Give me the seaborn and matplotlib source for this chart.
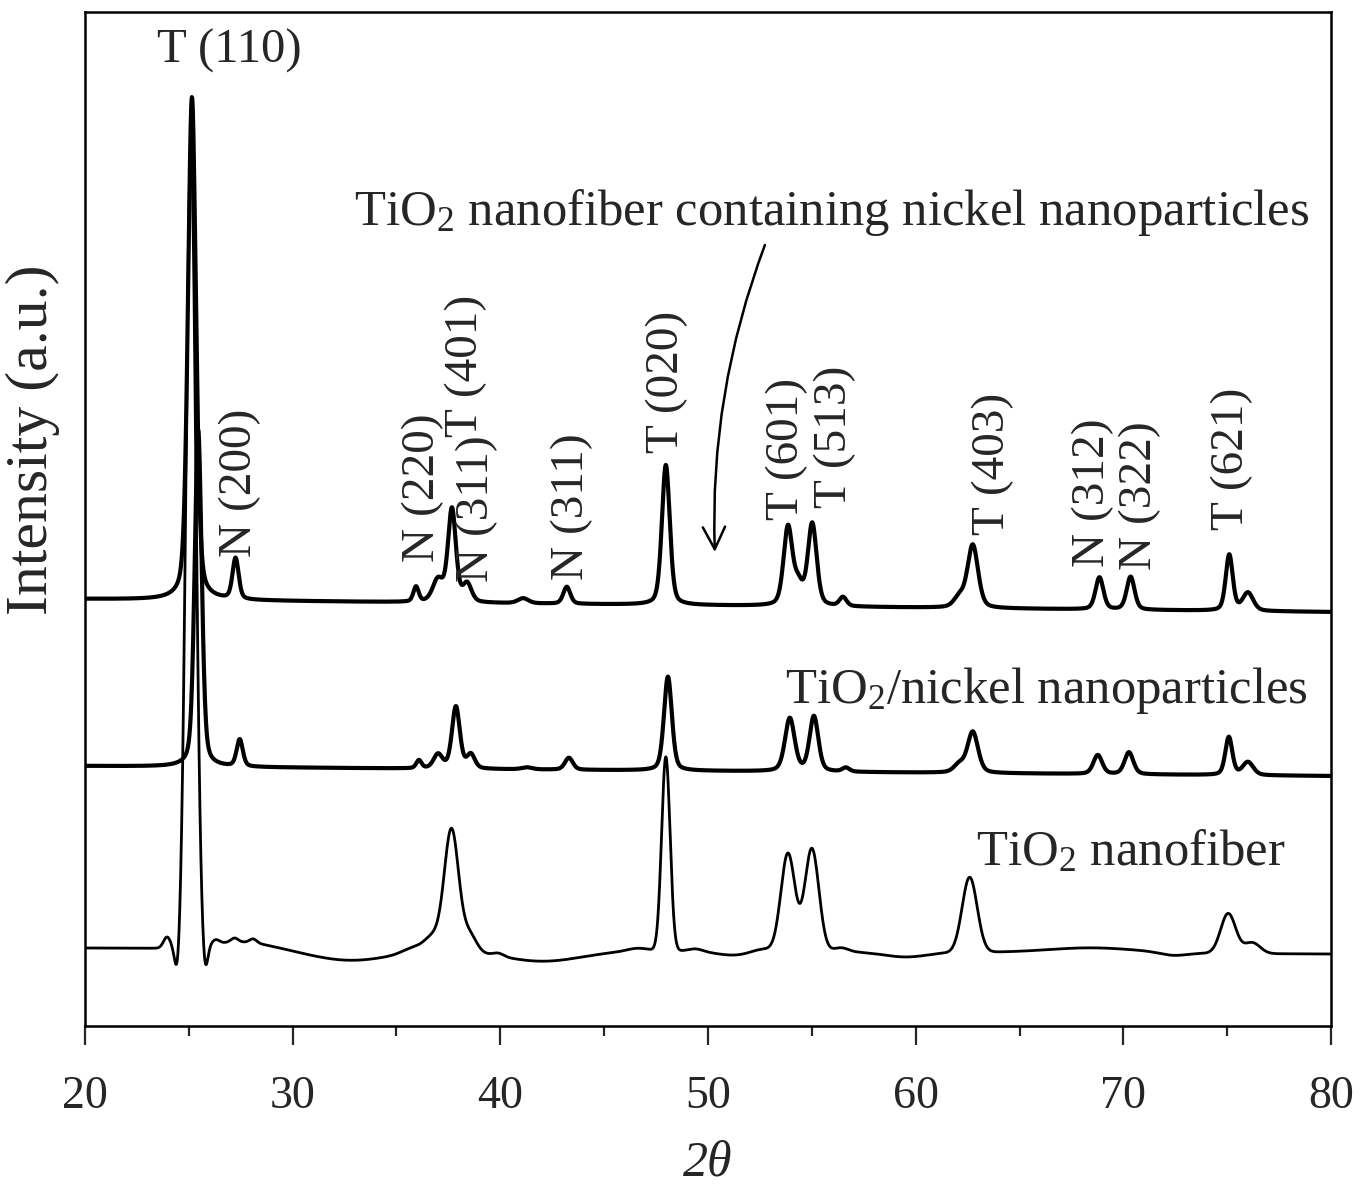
import numpy as np
import pandas as pd
import matplotlib
matplotlib.use("Agg")
import matplotlib.pyplot as plt
from matplotlib.ticker import MultipleLocator
import seaborn as sns

# scan range (2 theta, degrees)
scan_start, scan_end = 20, 80

# bottom trace: TiO2 nanofiber (smooth). baseline at 20 and 80, then peaks
fiber_base = [78, 72]
fiber_pos = [23.95, 24.45, 25.1, 25.78, 26.3, 27.2, 28.1, 27.5, 32.8, 35.8, 36.8, 37.65, 38.5, 39.9,
             42.0, 46.6, 47.97, 49.4, 51.2, 52.6, 53.85, 55.0, 56.4, 59.5, 62.6, 68.5, 72.4, 75.05, 76.2]
fiber_height = [11, -28, 800, -28, 4, 4, 4, 7, -11, 5, 15, 120, 18, 3,
                -11, 3, 194, 2.5, -4, 3, 98, 103, 4, -5, 75, 5, -3, 40, 11]
fiber_fwhm = [0.4, 0.3, 0.55, 0.3, 0.4, 0.4, 0.4, 3.5, 4.5, 1.2, 1.0, 0.8, 0.8, 0.6,
              4.5, 1.2, 0.48, 0.8, 2.0, 1.2, 0.8, 0.8, 0.8, 2.5, 0.85, 5.0, 1.5, 0.85, 0.9]

# middle trace: TiO2/nickel nanoparticles
mix_base = [260, 250]
mix_pos = [25.45, 27.45, 36.08, 37.0, 37.86, 38.58, 41.28, 43.3, 48.07, 53.94, 55.1, 56.64,
           62.1, 62.75, 68.77, 70.27, 75.08, 76.0]
mix_height = [337, 27, 8, 14, 62, 14, 2, 12, 94, 53, 55, 4, 8, 41, 19, 22, 38, 13]
mix_fwhm = [0.4, 0.35, 0.3, 0.5, 0.45, 0.45, 0.6, 0.45, 0.45, 0.55, 0.5, 0.4,
            0.6, 0.6, 0.5, 0.5, 0.4, 0.6]

# top trace: TiO2 nanofiber containing nickel nanoparticles
comp_base = [427, 414]
comp_pos = [25.15, 27.25, 35.94, 37.0, 37.67, 38.4, 41.1, 43.2, 47.97, 53.85, 54.35, 55.02,
            56.5, 62.1, 62.75, 68.85, 70.35, 75.1, 76.0]
comp_height = [503, 41, 15, 22, 93, 18, 5, 17, 140, 78, 20, 82, 9, 10, 63, 32, 33, 56, 18]
comp_fwhm = [0.45, 0.35, 0.3, 0.6, 0.45, 0.5, 0.6, 0.4, 0.45, 0.5, 0.5, 0.5, 0.4,
             0.6, 0.6, 0.45, 0.45, 0.4, 0.6]

# reflection labels: text, x (2 theta), y of text start
hkl_text = ["N (200)", "N (220)", "T (401)", "N (311)", "N (311)", "T (020)", "T (601)",
            "T (513)", "T (403)", "N (312)", "N (322)", "T (621)"]
hkl_x = [27.46, 36.28, 38.35, 38.88, 43.45, 48.02, 53.8, 56.1, 63.72, 68.54, 70.8, 75.23]
hkl_y = [469, 464, 589, 444, 446, 573, 506, 518, 491, 459, 456, 496]


def trace(base, pos, height, fwhm, eta, x):
    y = base[0] + (base[1] - base[0]) * (x - scan_start) / (scan_end - scan_start)
    for c, h, w in zip(pos, height, fwhm):
        u = (x - c) / w
        g = np.exp(-4 * np.log(2) * u ** 2)
        lor = 1 / (1 + 4 * u ** 2)
        y = y + h * ((1 - eta) * g + eta * lor)
    return y


x = np.linspace(scan_start, scan_end, 4000)
df = pd.concat([
    pd.DataFrame({"two_theta": x, "intensity": trace(fiber_base, fiber_pos, fiber_height, fiber_fwhm, 0.0, x),
                  "sample": "fiber"}),
    pd.DataFrame({"two_theta": x, "intensity": trace(mix_base, mix_pos, mix_height, mix_fwhm, 0.35, x),
                  "sample": "mix"}),
    pd.DataFrame({"two_theta": x, "intensity": trace(comp_base, comp_pos, comp_height, comp_fwhm, 0.35, x),
                  "sample": "composite"}),
])

sns.set_style("ticks")
plt.rcParams["font.family"] = ["Liberation Serif", "DejaVu Serif"]
plt.rcParams["mathtext.default"] = "regular"

fig = plt.figure(figsize=(13.61, 11.88), dpi=100)
ax = fig.add_axes([85 / 1361, 162 / 1188, 1246 / 1361, 1014 / 1188])

widths = {"fiber": 2.0, "mix": 3.0, "composite": 3.0}
for name, lw in widths.items():
    sns.lineplot(data=df[df["sample"] == name], x="two_theta", y="intensity",
                 color="black", linewidth=lw, estimator=None, sort=False, ax=ax)

ax.set_xlim(scan_start, scan_end)
ax.set_ylim(0, 1014)
ax.set_yticks([])
ax.xaxis.set_major_locator(MultipleLocator(10))
ax.xaxis.set_minor_locator(MultipleLocator(5))
ax.tick_params(axis="x", which="major", length=13.7, width=1.6, labelsize=33, pad=22, direction="out")
ax.tick_params(axis="x", which="minor", length=7.2, width=1.6, direction="out")
for s in ax.spines.values():
    s.set_linewidth(1.8)
    s.set_color("black")

ax.set_xlabel("2θ", fontsize=36, fontstyle="italic")
ax.xaxis.set_label_coords(0.5, -0.112)
ax.set_ylabel("Intensity (a.u.)", fontsize=43)
ax.yaxis.set_label_coords(-0.02, 0.578)

ax.text(26.93, 975, "T (110)", fontsize=35, ha="center", va="center")
for t, px, py in zip(hkl_text, hkl_x, hkl_y):
    ax.text(px, py, t, fontsize=34, rotation=90, ha="center", va="bottom")

ax.text(55.97, 813, "TiO$_2$ nanofiber containing nickel nanoparticles", fontsize=36.5, ha="center", va="center")
ax.text(66.28, 336, "TiO$_2$/nickel nanoparticles", fontsize=36.5, ha="center", va="center")
ax.text(70.37, 173, "TiO$_2$ nanofiber", fontsize=36.5, ha="center", va="center")

ax.annotate("", xy=(50.33, 474), xytext=(52.74, 781),
            arrowprops=dict(arrowstyle="->,head_length=1.6,head_width=0.8", color="black",
                            lw=1.8, connectionstyle="arc3,rad=0.1", shrinkA=0, shrinkB=0))

fig.savefig("out.png", dpi=100)
